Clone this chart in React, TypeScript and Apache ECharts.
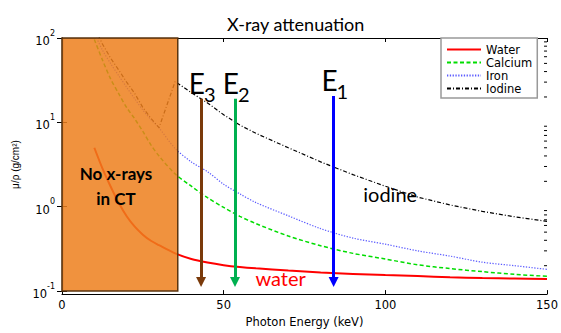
import React, { useEffect, useRef } from 'react';
import * as echarts from 'echarts';

// ---- data ----
const energies = [10, 12.5, 15, 17.5, 20, 22.5, 25, 27.5, 30, 35, 40, 45, 50, 55, 60, 70, 80, 90, 100, 110, 120, 130, 140, 150];
const waterValues = [5.0, 2.85, 1.75, 1.12, 0.77, 0.58, 0.467, 0.395, 0.35, 0.28, 0.24, 0.218, 0.203, 0.193, 0.186, 0.175, 0.166, 0.16, 0.155, 0.151, 0.146, 0.143, 0.141, 0.139];
const calciumValues = [96, 55, 33, 22, 15, 11, 7.8, 5.4, 4.0, 2.45, 1.75, 1.28, 0.98, 0.77, 0.63, 0.45, 0.345, 0.28, 0.24, 0.205, 0.185, 0.17, 0.158, 0.15];
const ironValues = [115, 72, 50, 36, 26, 19, 14, 10.8, 8.6, 4.9, 3.4, 2.6, 1.85, 1.42, 1.12, 0.78, 0.55, 0.425, 0.36, 0.3, 0.26, 0.22, 0.2, 0.181];
const iodineValues = [135, 85, 58, 42, 30, 22, 15, 11.2, 8.65, 30.5, 22.5, 17, 12.3, 9.3, 7.4, 5.0, 3.4, 2.4, 1.75, 1.3, 1.05, 0.88, 0.76, 0.67];

const seriesNames = ['Water', 'Calcium', 'Iron', 'Iodine'];
const seriesColors = ['#ff0000', '#00dd00', '#5b5bff', '#000000'];

const arrowSubscripts = ['3', '2', '1'];
const arrowEnergies = [43, 53.5, 84];
const arrowTops = [19, 19, 20.5];
const arrowBottom = 0.128;
const arrowColors = ['#7a3a0a', '#00b050', '#0000ff'];

const noXrayLimit = 35.8;
const minorTickValues = [0.2, 0.3, 0.4, 0.5, 0.6, 0.7, 0.8, 0.9, 2, 3, 4, 5, 6, 7, 8, 9, 20, 30, 40, 50, 60, 70, 80, 90];

const waterLabelAt = [67.6, 0.1426];
const iodineLabelAt = [101.5, 1.41];
const noXrayLabelAt = [16.7, 1.74];

const LATO = 'Lato, "Open Sans", sans-serif';
const DEJAVU = '"DejaVu Sans", sans-serif';

export default function App() {
  const ref = useRef<HTMLDivElement>(null);
  useEffect(() => {
    document.body.style.margin = '0';
    const chart = echarts.init(ref.current!, null, { renderer: 'svg' });
    const valueSets = [waterValues, calciumValues, ironValues, iodineValues];
    const lineStyles: any[] = [
      { width: 2, type: 'solid' },
      { width: 1.5, type: [4, 2.5] },
      { width: 1.2, type: [1.3, 1.5] },
      { width: 1.2, type: [4, 2, 1, 2] },
    ];
    const smoothness = [0.3, 0.3, 0.3, 0];
    const lineSeries = seriesNames.map((name, i) => ({
      name,
      type: 'line',
      data: energies.map((e, j) => [e, valueSets[i][j]]),
      showSymbol: false,
      symbol: 'none',
      smooth: smoothness[i],
      color: seriesColors[i],
      lineStyle: { color: seriesColors[i], ...lineStyles[i] },
      z: 2,
    }));

    const option: any = {
      animation: false,
      title: {
        text: 'X-ray attenuation',
        left: 222,
        top: 10,
        textStyle: { fontFamily: LATO, fontSize: 18, fontWeight: 'normal', color: '#000' },
      },
      legend: {
        data: seriesNames,
        orient: 'vertical',
        left: 441,
        top: 38,
        itemWidth: 34,
        itemHeight: 10,
        itemGap: 0,
        padding: [5, 5, 3, 5],
        borderColor: '#999',
        borderWidth: 1.5,
        backgroundColor: '#fff',
        selectedMode: false,
        itemStyle: { opacity: 0 },
        textStyle: { fontFamily: DEJAVU, fontSize: 11.5, color: '#000', lineHeight: 13 },
      },
      grid: { left: 62, right: 13, top: 38, bottom: 33, containLabel: false },
      xAxis: [
        {
          type: 'value', min: 0, max: 150, interval: 50, position: 'bottom', offset: 3,
          axisLine: { show: true, lineStyle: { color: '#000', width: 1.2 } },
          axisTick: { show: true, inside: true, length: 4, lineStyle: { color: '#000' } },
          axisLabel: { fontFamily: DEJAVU, fontSize: 11.5, color: '#000', margin: 5 },
          splitLine: { show: false },
          name: 'Photon Energy (keV)', nameLocation: 'middle', nameGap: 18,
          nameTextStyle: { fontFamily: DEJAVU, fontSize: 11.5, color: '#000' },
        },
        {
          type: 'value', min: 0, max: 150, interval: 50, position: 'top',
          axisLine: { show: true, lineStyle: { color: '#000', width: 1.2 } },
          axisTick: { show: true, inside: true, length: 4, lineStyle: { color: '#000' } },
          axisLabel: { show: false },
          splitLine: { show: false },
        },
      ],
      yAxis: [
        {
          type: 'log', logBase: 10, min: 0.1, max: 100, position: 'left',
          axisLine: { show: true, lineStyle: { color: '#000', width: 1.2 } },
          axisTick: { show: true, inside: true, length: 5, lineStyle: { color: '#000' } },
          axisLabel: {
            margin: 7,
            formatter: (v: number) => `{b|10}{s|${Math.round(Math.log10(v))}}`,
            rich: {
              b: { fontFamily: DEJAVU, fontSize: 11.5, color: '#000', lineHeight: 18, verticalAlign: 'bottom' },
              s: { fontFamily: DEJAVU, fontSize: 8, color: '#000', lineHeight: 8, verticalAlign: 'top' },
            },
          },
          splitLine: { show: false },
          name: 'μ/ρ (g/cm²)', nameLocation: 'middle', nameGap: 42,
          nameTextStyle: { fontFamily: '"Liberation Sans", Arial, sans-serif', fontSize: 10, color: '#000' },
        },
        {
          type: 'log', logBase: 10, min: 0.1, max: 100, position: 'right',
          axisLine: { show: true, lineStyle: { color: '#000', width: 1.2 } },
          axisTick: { show: true, inside: true, length: 5, lineStyle: { color: '#000' } },
          axisLabel: { show: false },
          splitLine: { show: false },
        },
      ],
      series: [
        ...lineSeries,
        {
          name: 'noXray',
          type: 'custom',
          z: 3,
          silent: true,
          data: [[0, 100, noXrayLimit, 0.1]],
          encode: { x: [0, 2], y: [1, 3] },
          renderItem: (params: any, api: any) => {
            const p0 = api.coord([api.value(0), api.value(1)]);
            const p1 = api.coord([api.value(2), api.value(3)]);
            return {
              type: 'rect',
              shape: { x: p0[0], y: p0[1], width: p1[0] - p0[0], height: p1[1] - p0[1] },
              style: { fill: 'rgba(237,127,28,0.85)', stroke: '#5a3510', lineWidth: 1.5 },
            };
          },
        },
        {
          name: 'minorTicks',
          type: 'custom',
          z: 5,
          silent: true,
          clip: false,
          data: minorTickValues.map((v) => [150, v]),
          renderItem: (params: any, api: any) => {
            const p = api.coord([api.value(0), api.value(1)]);
            return {
              type: 'line',
              shape: { x1: p[0] - 3, y1: p[1], x2: p[0], y2: p[1] },
              style: { stroke: '#000', lineWidth: 1 },
            };
          },
        },
        {
          name: 'arrows',
          type: 'lines',
          coordinateSystem: 'cartesian2d',
          z: 4,
          silent: true,
          symbol: ['none', 'triangle'],
          symbolSize: [9, 10],
          lineStyle: { width: 3, opacity: 1, curveness: 0 },
          data: arrowEnergies.map((e, i) => ({
            coords: [[e, arrowTops[i]], [e, arrowBottom]],
            lineStyle: { color: arrowColors[i], width: 3 },
          })),
        },
      ],
    };
    chart.setOption(option);

    const px = (p: number[]) => chart.convertToPixel({ xAxisIndex: 0, yAxisIndex: 0 }, p) as number[];
    const graphics: any[] = [];
    arrowEnergies.forEach((e, i) => {
      const top = px([e, arrowTops[i]]);
      graphics.push({
        type: 'text', z: 100, x: top[0] + 4, y: top[1] - 16,
        style: { text: 'E', fill: '#000', fontFamily: LATO, fontSize: 28, align: 'right', verticalAlign: 'middle' },
      });
      graphics.push({
        type: 'text', z: 100, x: top[0] + 3, y: top[1] - 5,
        style: { text: arrowSubscripts[i], fill: '#000', fontFamily: LATO, fontSize: 20, align: 'left', verticalAlign: 'middle' },
      });
    });
    const w = px(waterLabelAt);
    graphics.push({
      type: 'text', z: 100, x: w[0], y: w[1],
      style: { text: 'water', fill: '#ff0000', fontFamily: LATO, fontSize: 20, align: 'center', verticalAlign: 'middle' },
    });
    const io = px(iodineLabelAt);
    graphics.push({
      type: 'text', z: 100, x: io[0], y: io[1],
      style: { text: 'iodine', fill: '#000', fontFamily: LATO, fontSize: 20, align: 'center', verticalAlign: 'middle' },
    });
    const nx = px(noXrayLabelAt);
    graphics.push({
      type: 'text', z: 100, x: nx[0], y: nx[1],
      style: { text: 'No x-rays\nin CT', fill: '#000', fontFamily: LATO, fontWeight: 'bold', fontSize: 17, lineHeight: 25, align: 'center', verticalAlign: 'middle' },
    });
    chart.setOption({ graphic: graphics });

    return () => chart.dispose();
  }, []);
  return <div ref={ref} style={{ width: 561, height: 333 }} />;
}
